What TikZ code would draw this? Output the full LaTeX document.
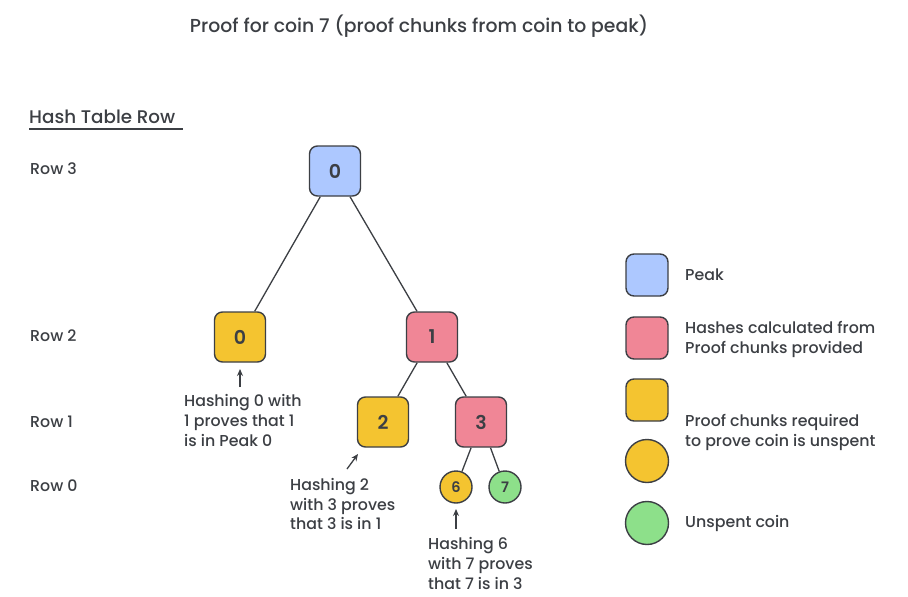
\documentclass[tikz,border=0pt]{standalone}
\usepackage{fontspec}
\setmainfont{Poppins}[UprightFont=* Medium, BoldFont=* SemiBold]
\usetikzlibrary{arrows.meta}
\definecolor{ink}{HTML}{3C3F44}
\definecolor{peakblue}{HTML}{ADC8FF}
\definecolor{hashpink}{HTML}{F08696}
\definecolor{proofyellow}{HTML}{F4C430}
\definecolor{coingreen}{HTML}{8DE08A}
\tikzset{
  every node/.style={text=ink},
  box/.style={draw=ink, line width=1.4pt, rounded corners=8pt, minimum width=51pt, minimum height=50pt, font=\fontsize{19}{22}\selectfont\bfseries, inner sep=0pt},
  coin/.style={draw=ink, line width=1.4pt, circle, minimum size=32pt, font=\fontsize{14.5}{15}\selectfont\bfseries, inner sep=0pt},
  lbox/.style={draw=ink, line width=1.4pt, rounded corners=8pt, minimum width=42pt, minimum height=42pt, inner sep=0pt},
  lcoin/.style={draw=ink, line width=1.4pt, circle, minimum size=43pt, inner sep=0pt},
  edge/.style={draw=ink, line width=1.3pt},
  note/.style={draw=ink, line width=1.3pt, -{Stealth[length=7pt,width=6pt]}},
  lbl/.style={anchor=west, font=\fontsize{15.8}{20}\selectfont, inner sep=0pt},
  txt/.style={anchor=north west, align=left, font=\fontsize{15.8}{19.7}\selectfont, inner sep=0pt},
}
\begin{document}
\begin{tikzpicture}[x=1pt,y=-1pt]
\useasboundingbox (0,0) rectangle (908,597);
\fill[white] (0,0) rectangle (908,597);
% title
\node[font=\fontsize{18.8}{22}\selectfont] (title) at (419,26) {Proof for coin 7 (proof chunks from coin to peak)};
% row header
\node[lbl, font=\fontsize{18.3}{20}\selectfont] (hdr) at (29,117) {Hash Table Row};
\draw[ink, line width=1.5pt] (29,129) -- (183,129);
\node[lbl] (r3) at (30,169) {Row 3};
\node[lbl] (r2) at (30,336) {Row 2};
\node[lbl] (r1) at (30,422) {Row 1};
\node[lbl] (r0) at (30,486) {Row 0};
% tree
\node[box, fill=peakblue] (p) at (335,171) {0};
\node[box, fill=proofyellow] (a) at (240,337) {0};
\node[box, fill=hashpink] (b) at (432,337) {1};
\node[box, fill=proofyellow] (c) at (383,422) {2};
\node[box, fill=hashpink] (d) at (481,422) {3};
\node[coin, fill=proofyellow] (e) at (456,487) {6};
\node[coin, fill=coingreen] (f) at (505,487) {7};
\draw[edge] (p) -- (a);
\draw[edge] (p) -- (b);
\draw[edge] (b) -- (c);
\draw[edge] (b) -- (d);
\draw[edge] (d) -- (e);
\draw[edge] (d) -- (f);
% notes
\coordinate (t1) at (240,387);
\draw[note] (t1) -- (a.south |- 0,369);
\node[txt] (n1) at (184,394.5) {Hashing 0 with\\1 proves that 1\\is in Peak 0};
\coordinate (t2) at (347,469);
\coordinate (h2) at (358,454);
\draw[note] (t2) -- (h2);
\node[txt] (n2) at (290,478) {Hashing 2\\with 3 proves\\that 3 is in 1};
\coordinate (t3) at (456,529);
\draw[note] (t3) -- (e.south |- 0,509);
\node[txt] (n3) at (428,537.5) {Hashing 6\\with 7 proves\\that 7 is in 3};
% legend
\node[lbox, fill=peakblue] (k1) at (647,275) {};
\node[lbox, fill=hashpink] (k2) at (647,338) {};
\node[lbox, fill=proofyellow] (k3) at (647,400) {};
\node[lcoin, fill=proofyellow] (k4) at (647,461) {};
\node[lcoin, fill=coingreen] (k5) at (647,523) {};
\node[lbl] (l1) at (685,275) {Peak};
\node[txt] (l2) at (685,321.5) {Hashes calculated from\\Proof chunks provided};
\node[txt] (l3) at (685,414.5) {Proof chunks required\\to prove coin is unspent};
\node[lbl] (l4) at (685,523) {Unspent coin};
\end{tikzpicture}
\end{document}
